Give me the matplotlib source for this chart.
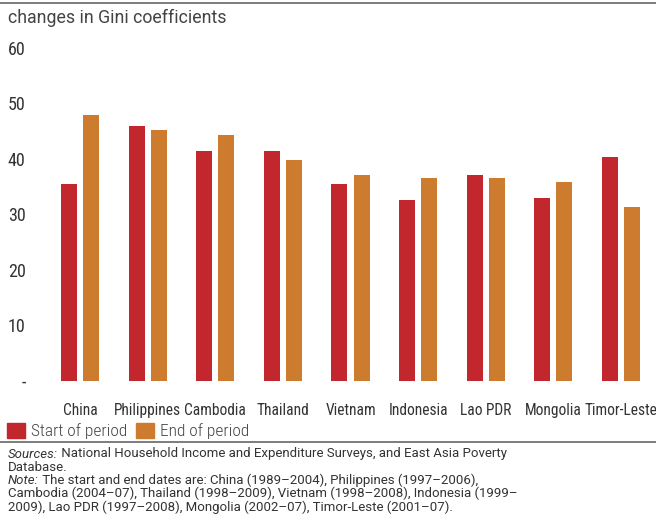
import matplotlib
matplotlib.use('Agg')
import matplotlib.pyplot as plt
from matplotlib.lines import Line2D
from matplotlib.patches import Rectangle
import numpy as np

countries = ['China', 'Philippines', 'Cambodia', 'Thailand', 'Vietnam',
             'Indonesia', 'Lao PDR', 'Mongolia', 'Timor-Leste']
start_vals = [35.5, 45.9, 41.4, 41.4, 35.5, 32.6, 37.1, 33.0, 40.4]
end_vals = [47.9, 45.2, 44.3, 39.8, 37.1, 36.6, 36.6, 35.9, 31.4]
yticks = [0, 10, 20, 30, 40, 50, 60]
ytick_labels = ['-', '10', '20', '30', '40', '50', '60']

RED = '#C1272D'
ORANGE = '#CD7B2E'
NARROW = ['Roboto Condensed', 'DejaVu Sans']
REG = ['Roboto', 'DejaVu Sans']

W, H = 656, 527
fig = plt.figure(figsize=(W / 100, H / 100), dpi=100)

# axes placed in pixel terms
ax_l, ax_r, ax_t, ax_b = 45, 656, 40, 381
ax = fig.add_axes([ax_l / W, 1 - ax_b / H, (ax_r - ax_l) / W, (ax_b - ax_t) / H])

x = np.arange(len(countries))
bw = 16 / 67.6
off = 11 / 67.6
ax.bar(x - off, start_vals, bw, color=RED)
ax.bar(x + off, end_vals, bw, color=ORANGE)

ax.set_xlim(-(80 - ax_l) / 67.6, 8 + (ax_r - 621) / 67.6)
ax.set_ylim(0, 60 + (48 - ax_t) / 5.55)
for s in ax.spines.values():
    s.set_visible(False)

ax.set_yticks(yticks)
ax.set_yticklabels(ytick_labels, family=NARROW, fontsize=13, color='#333333')
ax.tick_params(axis='y', length=0, pad=14)
ax.set_xticks(x)
ax.set_xticklabels(countries, family=NARROW, fontsize=11.2, color='#333333')
ax.tick_params(axis='x', length=0, pad=16)

# title
fig.text(8 / W, 1 - 18 / H, 'changes in Gini coefficients', family=REG,
         fontsize=12.8, color='#444444', va='center', ha='left')

# rules
fig.add_artist(Line2D([0, 1], [1 - 3 / H, 1 - 3 / H], color='#666666', lw=1.2))
fig.add_artist(Line2D([0, 1], [1 - 442 / H, 1 - 442 / H], color='#666666', lw=1.2))

# legend
for px, lab, col in [(7, 'Start of period', RED), (136, 'End of period', ORANGE)]:
    fig.add_artist(Rectangle((px / W, 1 - 438 / H), 18 / W, 15 / H,
                             color=col, transform=fig.transFigure))
    fig.text((px + 24) / W, 1 - 431 / H, lab, family=NARROW, fontsize=12.5,
             weight='light', color='#444444', va='center', ha='left')

# footnotes
lines = [
    ('Sources:', ' National Household Income and Expenditure Surveys, and East Asia Poverty'),
    ('', 'Database.'),
    ('Note:', ' The start and end dates are: China (1989\u20132004), Philippines (1997\u20132006),'),
    ('', 'Cambodia (2004\u201307), Thailand (1998\u20132009), Vietnam (1998\u20132008), Indonesia (1999\u2013'),
    ('', '2009), Lao PDR (1997\u20132008), Mongolia (2002\u201307), Timor-Leste (2001\u201307).'),
]
y0 = 454
fs = 9.5
for i, (it, rest) in enumerate(lines):
    yy = 1 - (y0 + i * 13.2) / H
    if it:
        t = fig.text(8 / W, yy, it, family=REG, fontsize=fs, style='italic',
                     color='#333333', va='center', ha='left')
        fig.canvas.draw()
        bb = t.get_window_extent()
        fig.text(bb.x1 / W, yy, rest, family=REG, fontsize=fs,
                 color='#333333', va='center', ha='left')
    else:
        fig.text(8 / W, yy, rest, family=REG, fontsize=fs,
                 color='#333333', va='center', ha='left')

fig.savefig('out.png', dpi=100)
